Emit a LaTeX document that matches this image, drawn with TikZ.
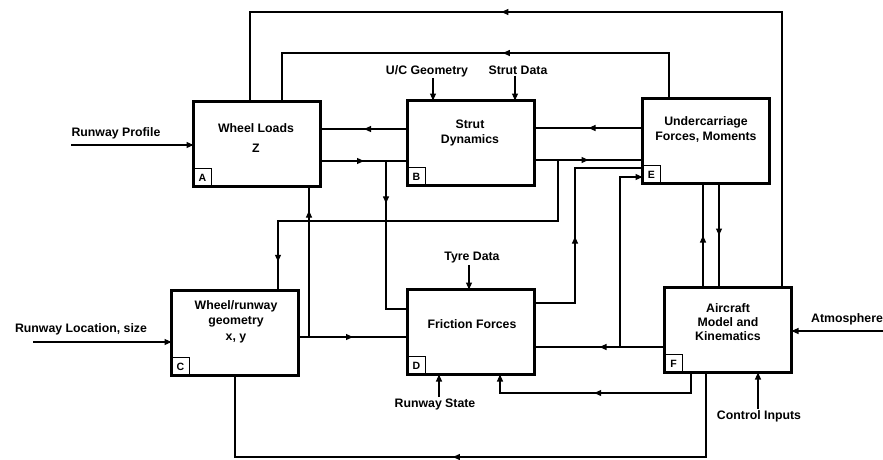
\documentclass[tikz,border=0pt]{standalone}
\usepackage{fontspec}
\setmainfont{Liberation Sans}
\usetikzlibrary{arrows.meta,decorations.markings}

\begin{document}
\begin{tikzpicture}[x=0.3mm, y=-0.3mm,
    font=\fontsize{10.5}{12}\selectfont\bfseries,
    >={Triangle[length=2.1mm,width=1.8mm]},
    wire/.style={line width=0.35mm},
    blk/.style={draw, line width=0.65mm, minimum width=38.1mm,
      minimum height=25.5mm, inner sep=0pt, outer sep=0pt},
    tag/.style={draw, line width=0.5mm, minimum size=5.4mm, inner sep=0pt,
      outer sep=0pt, anchor=south west,
      font=\fontsize{9}{9}\selectfont\bfseries},
    lbl/.style={inner sep=1pt, align=center},
    midtip/.style={postaction={decorate},
      decoration={markings, mark=at position #1 with {\arrow{>}}}},
    midtip/.default=0.5]
  \useasboundingbox (0,0) rectangle (883,459);

  \node[blk] (A) at (257,144) {};
  \node[blk] (B) at (471,143) {};
  \node[blk] (E) at (706,141) {};
  \node[blk] (C) at (235,333) {};
  \node[blk] (D) at (471,332) {};
  \node[blk] (F) at (728,330) {};
  \foreach \b in {A,B,C,D,E,F}
    \node[tag] at (\b.south west) {\b};

  \node[lbl] (Atxt) at (256,138) {Wheel Loads\\[5pt]Z};
  \node[lbl] (Btxt) at (470,133) {Strut\\Dynamics};
  \node[lbl] (Etxt) at (706,129.5) {Undercarriage\\Forces, Moments};
  \node[lbl] (Ctxt) at (236,322) {Wheel/runway\\geometry\\[2pt]x, y};
  \node[lbl] (Dtxt) at (472,324) {Friction Forces};
  \node[lbl] (Ftxt) at (728,322) {Aircraft\\Model and\\Kinematics};

  \node[lbl] (rprof) at (116,133) {Runway Profile};
  \node[lbl] (rloc) at (81,329) {Runway Location, size};
  \node[lbl] (ucg) at (427,71) {U/C Geometry};
  \node[lbl] (sdat) at (518,70) {Strut Data};
  \node[lbl] (tdat) at (472,258) {Tyre Data};
  \node[lbl] (rst) at (435,404) {Runway State};
  \node[lbl] (atm) at (847,319) {Atmosphere};
  \node[lbl] (ctl) at (759,416) {Control Inputs};

  \coordinate (rp0) at (71,145);
  \coordinate (rl0) at (33,342);
  \coordinate (atm0) at (883,331);
  \coordinate (j1) at (386,161);
  \coordinate (j2) at (558,160);
  \coordinate (j3) at (309,337);
  \coordinate (j4) at (620,347);

  % outside inputs
  \draw[wire,->] (rp0) -- (A.west |- rp0);
  \draw[wire,->] (rl0) -- (C.west |- rl0);
  \draw[wire,->] (atm0) -- (F.east |- atm0);
  \draw[wire,->] (ucg.south -| 433,0) -- (B.north -| 433,0);
  \draw[wire,->] (sdat.south -| 515,0) -- (B.north -| 515,0);
  \draw[wire,->] (tdat.south -| 469,0) -- (D.north -| 469,0);
  \draw[wire,->] (rst.north -| 439,0) -- (D.south -| 439,0);
  \draw[wire,->] (ctl.north -| 758,0) -- (F.south -| 758,0);

  % loops over the top
  \draw[wire,midtip=0.62] (F.north -| 782,0) |- (250,12) -- (A.north -| 250,0);
  \draw[wire,midtip=0.44] (E.north -| 669,0) |- (282,53) -- (A.north -| 282,0);

  % A, B, E
  \draw[wire,midtip] (B.west |- 0,129) -- (A.east |- 0,129);
  \draw[wire,midtip] (A.east |- j1) -- (B.west |- j1);
  \draw[wire,midtip=0.25] (j1) |- (D.west |- 0,309);
  \draw[wire,midtip] (E.west |- 0,128) -- (B.east |- 0,128);
  \draw[wire,midtip] (B.east |- j2) -- (E.west |- j2);
  \draw[wire,midtip=0.93] (j2) |- (278,221) -- (C.north -| 278,0);

  % C, D
  \draw[wire,midtip] (C.east |- j3) -- (D.west |- j3);
  \draw[wire,midtip=0.84] (j3) -- (A.south -| j3);
  \draw[wire,midtip=0.44] (D.east |- 0,303) -| (575,168) -- (E.west |- 0,168);

  % F outputs
  \draw[wire,midtip] (F.west |- j4) -- (D.east |- j4);
  \draw[wire,->] (j4) |- (E.west |- 0,177);
  \draw[wire,midtip=0.51,->] (F.south -| 691,0) |- (500,393) -- (D.south -| 500,0);
  \draw[wire,midtip] (E.south -| 719,0) -- (F.north -| 719,0);
  \draw[wire,midtip] (F.north -| 703,0) -- (E.south -| 703,0);
  \draw[wire,midtip=0.53] (F.south -| 706,0) |- (235,457) -- (C.south -| 235,0);
\end{tikzpicture}
\end{document}
